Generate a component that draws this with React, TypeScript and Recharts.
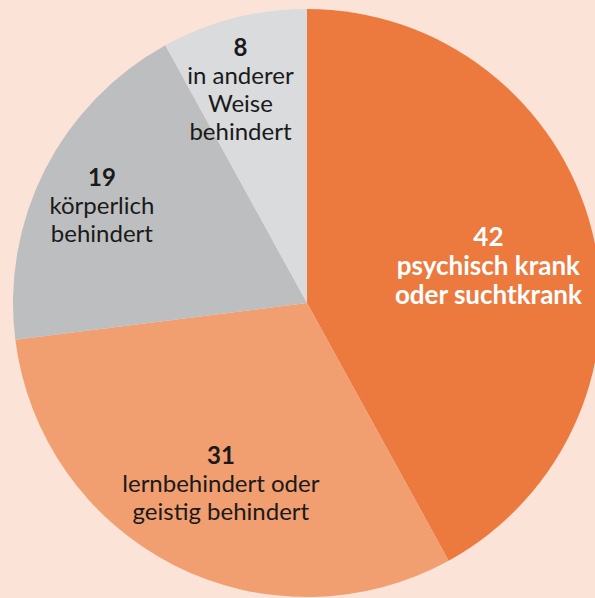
import React from "react";
import { PieChart, Pie, Cell } from "recharts";

const categories = [
  "psychisch krank oder suchtkrank",
  "lernbehindert oder geistig behindert",
  "körperlich behindert",
  "in anderer Weise behindert",
];
const values = [42, 31, 19, 8];
const labelLines = [
  ["psychisch krank", "oder suchtkrank"],
  ["lernbehindert oder", "geistig behindert"],
  ["körperlich", "behindert"],
  ["in anderer", "Weise", "behindert"],
];
const colors = ["#EC7A3F", "#F19E71", "#BDBEBF", "#D9DBDD"];
const textColors = ["#FFFFFF", "#1A1A1A", "#1A1A1A", "#1A1A1A"];
const labelRadius = [0.63, 0.69, 0.76, 0.76];
const labelShift = [
  [2, 8],
  [6, -2],
  [-6, 2],
  [-11, 1],
];
const fontSizes = [26, 24, 24, 24];
const lineHeights = [29, 28, 28, 28];

const data = categories.map((name, i) => ({ name, value: values[i] }));

const RAD = Math.PI / 180;

const renderLabel = (props: any) => {
  const { cx, cy, midAngle, outerRadius, index } = props;
  const r = outerRadius * labelRadius[index];
  const x = cx + r * Math.cos(-midAngle * RAD) + labelShift[index][0];
  const y = cy + r * Math.sin(-midAngle * RAD) + labelShift[index][1];
  const lines = [String(values[index]), ...labelLines[index]];
  const lh = lineHeights[index];
  const startY = y - ((lines.length - 1) * lh) / 2;
  return (
    <text
      x={x}
      y={startY}
      textAnchor="middle"
      dominantBaseline="central"
      fill={textColors[index]}
      fontFamily="Lato, sans-serif"
      fontSize={fontSizes[index]}
    >
      {lines.map((l, i) => (
        <tspan
          key={i}
          x={x}
          y={startY + i * lh}
          fontWeight={i === 0 || index === 0 ? 700 : 400}
        >
          {l}
        </tspan>
      ))}
    </text>
  );
};

export default function App() {
  return (
    <div
      style={{
        position: "absolute",
        left: 0,
        top: 0,
        width: 595,
        height: 598,
        background: "#FCE3D7",
        overflow: "hidden",
      }}
    >
      <PieChart width={595} height={598} margin={{ top: 0, right: 0, bottom: 0, left: 0 }}>
        <Pie
          data={data}
          dataKey="value"
          nameKey="name"
          cx={307}
          cy={303}
          outerRadius={294}
          startAngle={90}
          endAngle={-270}
          stroke="none"
          labelLine={false}
          label={renderLabel}
          isAnimationActive={false}
        >
          {data.map((d, i) => (
            <Cell key={d.name} fill={colors[i]} />
          ))}
        </Pie>
      </PieChart>
    </div>
  );
}
